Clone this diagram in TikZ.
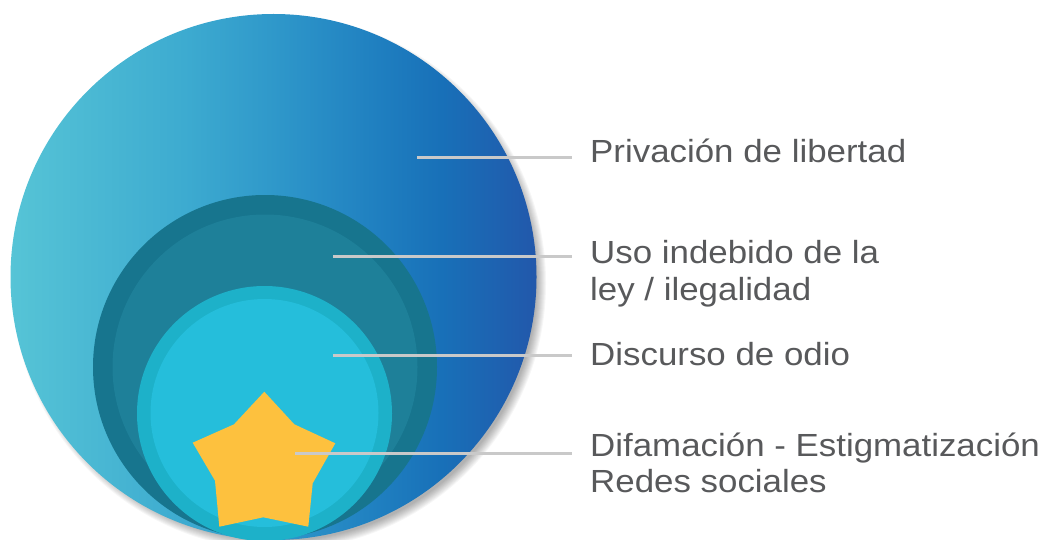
\documentclass[tikz,border=0pt]{standalone}
\usepackage{fontspec}
\setmainfont[FakeStretch=1.09]{Liberation Sans}
\definecolor{bigA}{HTML}{56C4D6}
\definecolor{bigB}{HTML}{3DABD0}
\definecolor{bigC}{HTML}{2F98CA}
\definecolor{bigD}{HTML}{1F7FC0}
\definecolor{bigE}{HTML}{1870B8}
\definecolor{bigF}{HTML}{2258AB}
\definecolor{midOut}{HTML}{17758E}
\definecolor{midIn}{HTML}{1E8099}
\definecolor{smOut}{HTML}{1DB1C9}
\definecolor{smIn}{HTML}{25BEDB}
\definecolor{starC}{HTML}{FDC13E}
\definecolor{lineC}{HTML}{C9C9C9}
\definecolor{textC}{HTML}{58595B}
\pgfdeclarehorizontalshading{bigshade}{100bp}{color(0bp)=(bigA); color(25bp)=(bigA);
  color(41.5bp)=(bigB); color(50bp)=(bigC); color(60bp)=(bigD); color(66bp)=(bigE);
  color(75bp)=(bigF); color(100bp)=(bigF)}
\begin{document}
\begin{tikzpicture}[x=1pt,y=-1pt,
  lbl/.style={anchor=base west,inner sep=0pt,text=textC,font=\fontsize{32}{36}\selectfont},
  leader/.style={draw=lineC,line width=3pt,shorten >=18pt}]
\useasboundingbox (0,0) rectangle (1056,540);
\begin{scope}
\clip (0,0) rectangle (1056,540);
% shadow
\foreach \k in {0,...,9}
  \fill[black,opacity=0.035] (279,283) circle ({267-\k});
% outer circle
\shade[shading=bigshade] (273.5,277) circle (263);
% middle circle
\fill[midOut] (265,367) circle (172);
\fill[midIn] (265,367) circle (152.5);
% small circle
\fill[smOut] (264.5,413.5) circle (127.5);
\fill[smIn] (264.5,413) circle (114);
% star
\fill[starC] (264.3,391.7) -- (294.3,424.3) -- (335.3,443.3) -- (312.7,483.3)
  -- (308.3,526.7) -- (263.3,517.3) -- (219.3,526.7) -- (215,480.7)
  -- (192.7,442.7) -- (234,424.3) -- cycle;
\end{scope}
% labels
\node[lbl] (l1) at (590,163) {Privación de libertad};
\node[lbl] (l2a) at (590,263.5) {Uso indebido de la};
\node[lbl] (l2b) at (590,300) {ley / ilegalidad};
\node[lbl] (l3) at (590,365) {Discurso de odio};
\node[lbl] (l4a) at (590,456.5) {Difamación - Estigmatización};
\node[lbl] (l4b) at (590,492) {Redes sociales};
% leader start points
\coordinate (s1) at (417,157.5);
\coordinate (s2) at (333,256.5);
\coordinate (s3) at (333,355);
\coordinate (s4) at (295,453.5);
\draw[leader] (s1) -- (s1 -| l1.west);
\draw[leader] (s2) -- (s2 -| l2a.west);
\draw[leader] (s3) -- (s3 -| l3.west);
\draw[leader] (s4) -- (s4 -| l4a.west);
\end{tikzpicture}
\end{document}
